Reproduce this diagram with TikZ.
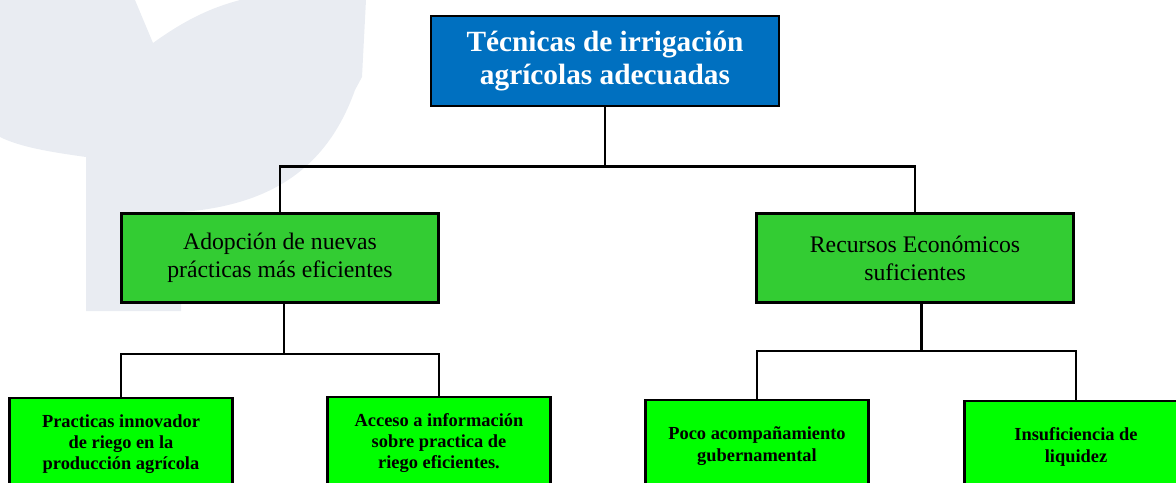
\documentclass[tikz,border=0pt]{standalone}
\usepackage{fontspec}
\setmainfont{Liberation Serif}
\usepackage{tikz}
\definecolor{azul}{HTML}{0070C0}
\definecolor{verdemedio}{HTML}{33CC33}
\definecolor{verdeclaro}{HTML}{00FF00}
\definecolor{marca}{HTML}{E9ECF2}
\usetikzlibrary{positioning}

\begin{document}
\begin{tikzpicture}[x=0.75pt, y=-0.75pt,
	titulo/.style={rectangle, draw, line width=2pt, fill=azul, text=white, font=\bfseries\fontsize{22}{25}\selectfont, align=center, minimum width=261pt, minimum height=67.5pt},
	medio/.style={rectangle, draw, line width=2pt, fill=verdemedio, font=\fontsize{17.8}{21}\selectfont, align=center, minimum width=238pt, minimum height=67pt},
	hoja/.style={rectangle, draw, line width=2pt, fill=verdeclaro, font=\bfseries\fontsize{13.8}{16}\selectfont, align=center, minimum width=167pt, minimum height=69pt},
	rama/.style={line width=2.1pt}]
	\useasboundingbox (0,0) rectangle (1176,482);
	\clip (0,0) rectangle (1176,482);
	% marca de agua
	\fill[marca] (0,0) -- (135,0) -- (153,43) .. controls (185,20) and (210,8) .. (240,0) -- (366,0) -- (362,77) -- (355,90) .. controls (330,160) and (280,205) .. (181,212) -- (181,311) -- (86,311) -- (86,157) .. controls (50,152) and (20,147) .. (0,137) -- cycle;
	\node[titulo] (tecnicas) at (605,61) {Técnicas de irrigación\\agrícolas adecuadas};
	\node[medio] (adopcion) at (280,258) {Adopción de nuevas\\prácticas más eficientes};
	\node[medio] (recursos) at (915,258) {Recursos Económicos\\suficientes};
	\node[hoja] (practicas) at (121,444) {Practicas innovador\\de riego en la\\producción agrícola};
	\node[hoja] (acceso) at (439,443) {Acceso a información\\sobre practica de\\riego eficientes.};
	\node[hoja] (poco) at (757,446) {Poco acompañamiento\\gubernamental};
	\node[hoja] (liquidez) at (1076,447) {Insuficiencia de\\liquidez};
	%\node[below =0.5cm of tecnicas] {};
	\draw[rama] (tecnicas.south) -- ++(0,59) -| (adopcion.north);
	\draw[rama] (tecnicas.south) -- ++(0,59) -| (recursos.north);
	\draw[rama] ([xshift=3pt]adopcion.south) -- ++(0,50) -| (practicas.north);
	\draw[rama] ([xshift=3pt]adopcion.south) -- ++(0,50) -| (acceso.north);
	\draw[rama] ([xshift=5pt]recursos.south) -- ++(0,47) -| (poco.north);
	\draw[rama] ([xshift=5pt]recursos.south) -- ++(0,47) -| (liquidez.north);
\end{tikzpicture}
\end{document}
